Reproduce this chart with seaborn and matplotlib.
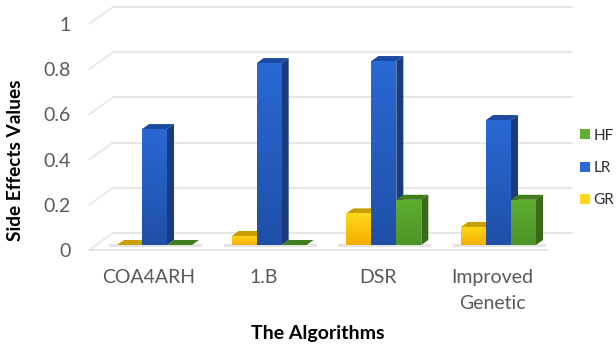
import numpy as np
import pandas as pd
import matplotlib
matplotlib.use("Agg")
import matplotlib.pyplot as plt
from matplotlib.colors import LinearSegmentedColormap
from matplotlib.patches import Polygon
import seaborn as sns

categories = ["COA4ARH", "1.B", "DSR", "Improved\nGenetic"]
series_names = ["GR", "LR", "HF"]
gr_values = [0.0, 0.04, 0.14, 0.08]
lr_values = [0.513, 0.805, 0.814, 0.553]
hf_values = [0.0, 0.0, 0.20, 0.20]
y_ticks = [0, 0.2, 0.4, 0.6, 0.8, 1]
y_tick_labels = ["0", "0.2", "0.4", "0.6", "0.8", "1"]

face_top = {"GR": "#ffd81a", "LR": "#2a68d4", "HF": "#5fae30"}
face_bottom = {"GR": "#f5ae00", "LR": "#1f50a8", "HF": "#4c9426"}
roof = {"GR": "#c99f00", "LR": "#1c4aa2", "HF": "#3f7d1e"}
side = {"GR": "#b98a00", "LR": "#1a3c7c", "HF": "#386a18"}

W, H = 616, 350
sns.set_theme(style="white")
plt.rcParams["font.family"] = ["Lato", "DejaVu Sans"]

fig = plt.figure(figsize=(W / 100, H / 100), dpi=100)
L, R, Y0, Y1 = 89, 548, 250, 24
ax = fig.add_axes([L / W, 1 - Y0 / H, (R - L) / W, (Y0 - Y1) / H])

PX_CAT = 114.67
PX_Y = Y0 - Y1
xlim = ((L - 154.5) / PX_CAT, (R - 154.5) / PX_CAT)
BASE = 5 / PX_Y  # bars stand a little behind the floor's front edge

df = pd.DataFrame({"cat": categories * 3,
                   "val": gr_values + lr_values + hf_values,
                   "s": sum([[n] * 4 for n in series_names], [])})
sns.barplot(data=df, x="cat", y="val", hue="s", hue_order=series_names,
            palette=face_top, width=75 / PX_CAT, gap=0, saturation=1,
            ax=ax, zorder=3, linewidth=0)

ax.set_xlim(xlim)
ax.set_ylim(0, 1)

# back wall + floor
GDX, GDY = 24 / PX_CAT, 17 / PX_Y
grid_c = "#e6e6e6"
for t in y_ticks:
    ax.plot([xlim[0], xlim[0] + GDX], [t, t + GDY], color=grid_c, lw=1.2, clip_on=False, zorder=1)
    ax.plot([xlim[0] + GDX, xlim[1] + GDX], [t + GDY, t + GDY], color=grid_c, lw=1.4, clip_on=False, zorder=1)
ax.plot(xlim, [0, 0], color=grid_c, lw=1.4, clip_on=False, zorder=1)

# 3-D faces derived from seaborn's own bars
DX, DY = 7 / PX_CAT, 5 / PX_Y
n_cat = len(categories)
containers = list(ax.containers)
for c_i in range(n_cat):
    x0 = containers[0][c_i].get_x()
    x1 = containers[-1][c_i].get_x() + containers[-1][c_i].get_width()
    ax.fill_between([x0 - 8 / PX_CAT, x1 + 10 / PX_CAT], [BASE - 2 / PX_Y] * 2, [BASE + 1 / PX_Y] * 2,
                    color="#c6c6d0", alpha=0.45, lw=0, zorder=2)
for s_i, cont in enumerate(containers):
    name = series_names[s_i]
    for b in cont:
        b.set_y(BASE)
        x, y, w, h = b.get_x(), b.get_y(), b.get_width(), b.get_height()
        z = 3 + s_i
        b.set_zorder(z)
        ax.add_patch(Polygon([(x, y + h), (x + w, y + h), (x + w + DX, y + h + DY), (x + DX, y + h + DY)],
                             color=roof[name], lw=0, zorder=z, clip_on=False))
        if h > 0:
            ax.add_patch(Polygon([(x + w, y), (x + w + DX, y + DY), (x + w + DX, y + h + DY), (x + w, y + h)],
                                 color=side[name], lw=0, zorder=z, clip_on=False))
            cmap = LinearSegmentedColormap.from_list(name, [face_bottom[name], face_top[name]])
            im = ax.imshow(np.linspace(1, 0, 64)[:, None], cmap=cmap, vmin=0, vmax=1, aspect="auto",
                           extent=(x, x + w, y, y + h), zorder=z + 0.1)
            im.set_clip_path(b)
ax.set_xlim(xlim)
ax.set_ylim(0, 1)

sns.despine(ax=ax, left=True, bottom=True)
ax.set_yticks(y_ticks, y_tick_labels)
ax.set_xticks(range(n_cat), categories)
ax.tick_params(axis="y", length=0, pad=13, labelsize=14, labelcolor="#595959")
ax.tick_params(axis="x", length=0, pad=14, labelsize=14, labelcolor="#595959")
offset = matplotlib.transforms.ScaledTranslation(-6 / 100, 0, fig.dpi_scale_trans)
for lab in ax.get_xticklabels():
    lab.set_transform(lab.get_transform() + offset)
    lab.set_linespacing(1.6)
ax.grid(False)
ax.set_xlabel("")
ax.set_ylabel("")

fig.text(318 / W, 1 - 334 / H, "The Algorithms", ha="center", va="center",
         fontsize=14, fontweight="bold", color="black")
fig.text(16 / W, 1 - 160 / H, "Side Effects Values", ha="center", va="center",
         rotation=90, fontsize=13.7, fontweight="bold", color="black")

handles, labels = ax.get_legend_handles_labels()
leg = ax.legend(handles[::-1], labels[::-1], loc="center left",
                bbox_to_anchor=(580 / W, 1 - 168 / H), bbox_transform=fig.transFigure,
                frameon=False, fontsize=11, handlelength=0.65, handleheight=0.65,
                handletextpad=0.25, labelspacing=1.2, borderpad=0, borderaxespad=0,
                labelcolor="#303030")

fig.savefig("out.png", dpi=100)
